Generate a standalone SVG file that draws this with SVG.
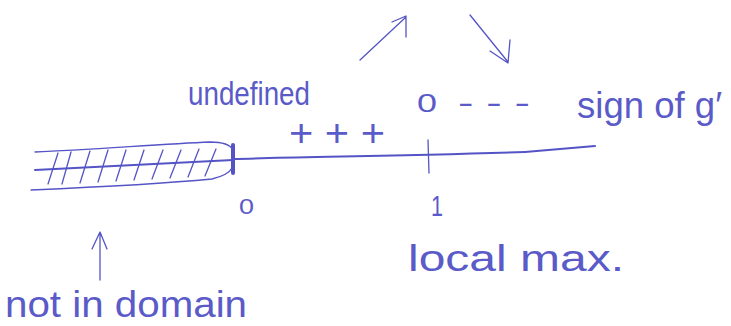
<svg xmlns="http://www.w3.org/2000/svg" width="731" height="326" viewBox="0 0 731 326">
<style>
.ink{fill:none;stroke:#5454c6;stroke-width:2;stroke-linecap:round;stroke-linejoin:round}
.thin{stroke-width:1.3}
.t{fill:#5a5ac8;font-family:"Liberation Sans","DejaVu Sans",sans-serif}
</style>
<rect width="731" height="326" fill="#fff"/>
<g id="hatched-region" class="ink thin">
<path d="M35,152 C90,150 160,144 210,142 C224,142 231,146 233,150"/>
<path d="M31,190 C100,187 170,183 212,179 C224,176 230,172 232,168"/>
<path d="M48,184 L58,153 M62,184 L71,152 M80,183 L90,151 M98,182 L108,150 M116,181 L126,150 M134,180 L144,150 M152,179 L163,150 M170,178 L181,150 M188,177 L199,149 M205,176 L216,149"/>
</g>
<g id="number-line" class="ink">
<path d="M35,170 L233,160"/>
<path d="M233,159 C300,157 400,156 525,152"/>
<path d="M525,152 L595,146"/>
<path d="M233,145 L233,173" stroke-width="4"/>
<path d="M428,140 L429,173" class="thin"/>
</g>
<g id="arrows" class="ink thin">
<path d="M360,60 L406,17 M392,22 L406,16 L406,37"/>
<path d="M470,15 L508,62 M490,51 L508,63 L510,40"/>
<path d="M100,280 L100,233 M92,249 L100,232 L107,249"/>
</g>
<g id="labels">
<text class="t" x="188" y="105" font-size="33" textLength="122" lengthAdjust="spacingAndGlyphs">undefined</text>
<text class="t" x="289" y="146" font-size="38" textLength="96" lengthAdjust="spacingAndGlyphs">+ + +</text>
<text class="t" x="417" y="112" font-size="26" textLength="20" lengthAdjust="spacingAndGlyphs">0</text>
<text class="t" x="458" y="113" font-size="30" textLength="72" lengthAdjust="spacingAndGlyphs">- - -</text>
<text class="t" x="577" y="118" font-size="36" textLength="145" lengthAdjust="spacingAndGlyphs">sign of g′</text>
<text class="t" x="239" y="214" font-size="22" textLength="15" lengthAdjust="spacingAndGlyphs">0</text>
<text class="t" x="431" y="216" font-size="30" textLength="12" lengthAdjust="spacingAndGlyphs">1</text>
<text class="t" x="408" y="271" font-size="36" textLength="216" lengthAdjust="spacingAndGlyphs">local max.</text>
<text class="t" x="5" y="317" font-size="36" textLength="242" lengthAdjust="spacingAndGlyphs">not in domain</text>
</g>
</svg>
